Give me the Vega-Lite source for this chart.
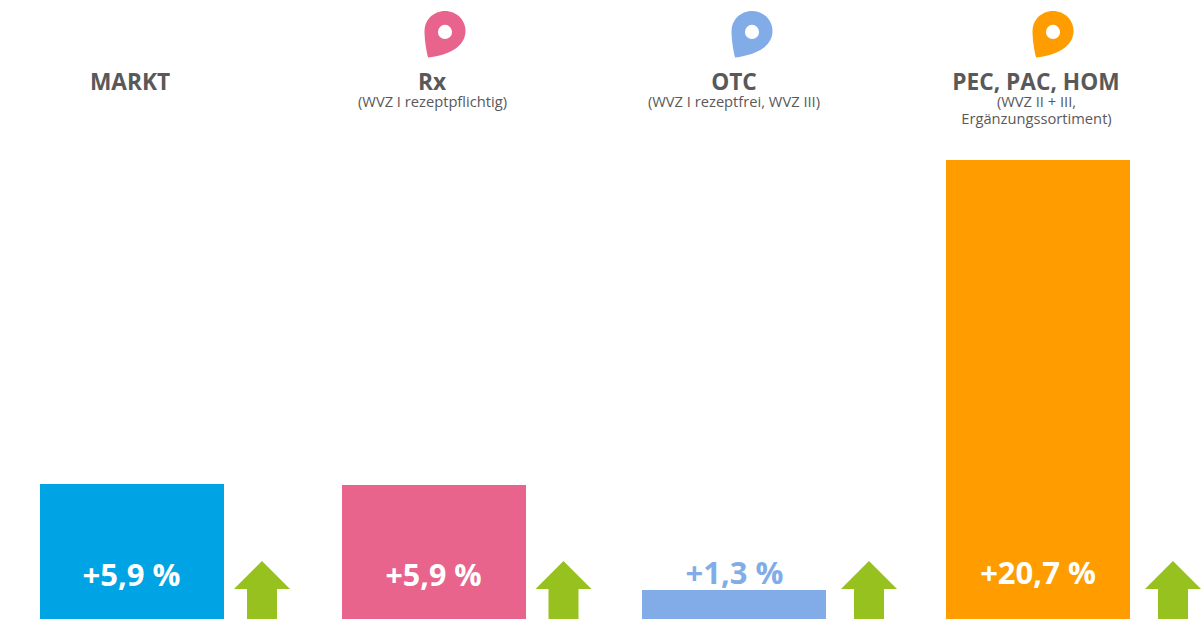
{"$schema":"https://vega.github.io/schema/vega-lite/v6.json","width":1204,"height":619,"autosize":{"type":"fit","contains":"padding"},"padding":0,"background":"white","config":{"view":{"stroke":null},"text":{"font":"Open Sans"}},
"data":{"values":[
{"group":"MARKT","bar":6.09,"change":"+5,9 %","sub":""},
{"group":"Rx","bar":6.04,"change":"+5,9 %","sub":"(WVZ I rezeptpflichtig)"},
{"group":"OTC","bar":1.31,"change":"+1,3 %","sub":"(WVZ I rezeptfrei, WVZ III)"},
{"group":"PEC, PAC, HOM","bar":20.7,"change":"+20,7 %","sub":"(WVZ II + III,\nErgänzungssortiment)"}]},
"encoding":{"x":{"field":"group","type":"nominal","sort":null,"axis":null,"scale":{"type":"point","domain":["MARKT","Rx","OTC","PEC, PAC, HOM"],"range":[132,1038],"padding":0}},
"y":{"field":"bar","type":"quantitative","axis":null,"scale":{"domain":[0,27.92],"nice":false,"zero":true}},
"color":{"field":"group","type":"nominal","legend":null,"scale":{"domain":["MARKT","Rx","OTC","PEC, PAC, HOM"],"range":["#00A4E4","#E8648C","#82ACE8","#FF9C00"]}}},
"layer":[
{"transform":[{"filter":"datum.group==='MARKT'"}],"layer":[
{"mark":{"type":"bar","size":184}},
{"mark":{"type":"text","fontSize":31,"fontWeight":"bold","color":"white","baseline":"middle","dx":-0.5},"encoding":{"text":{"field":"change"},"color":{"value":"white"},"y":{"datum":1.89,"type":"quantitative","axis":null}}},
{"mark":{"type":"text","fontSize":22.7,"fontWeight":"bold","baseline":"middle","dx":-2},"encoding":{"text":{"field":"group"},"color":{"value":"#595959"},"y":{"datum":24.16,"type":"quantitative","axis":null}}},
{"mark":{"type":"point","filled":true,"opacity":1,"shape":"M-0.966,-0.034L0,-1L0.966,-0.034L0.517,-0.034L0.517,1L-0.517,1L-0.517,-0.034Z","size":3364,"xOffset":130},"encoding":{"color":{"value":"#96C11F"},"y":{"datum":1.31,"type":"quantitative","axis":null}}}
]},
{"transform":[{"filter":"datum.group==='Rx'"}],"layer":[
{"mark":{"type":"bar","size":184}},
{"mark":{"type":"text","fontSize":30.4,"fontWeight":"bold","baseline":"middle","dx":-0.5},"encoding":{"text":{"field":"change"},"color":{"value":"white"},"y":{"datum":1.89,"type":"quantitative","axis":null}}},
{"mark":{"type":"text","fontSize":22.7,"fontWeight":"bold","baseline":"middle","dx":-2},"encoding":{"text":{"field":"group"},"color":{"value":"#595959"},"y":{"datum":24.16,"type":"quantitative","axis":null}}},
{"mark":{"type":"text","fontSize":14.7,"baseline":"top","lineBreak":"\n","lineHeight":17,"dx":-1.5},"encoding":{"text":{"field":"sub"},"color":{"value":"#595959"},"y":{"datum":23.62,"type":"quantitative","axis":null}}},
{"mark":{"type":"point","filled":true,"opacity":1,"shape":"M-0.966,-0.034L0,-1L0.966,-0.034L0.517,-0.034L0.517,1L-0.517,1L-0.517,-0.034Z","size":3364,"xOffset":129.5},"encoding":{"color":{"value":"#96C11F"},"y":{"datum":1.31,"type":"quantitative","axis":null}}},
{"mark":{"type":"point","filled":true,"opacity":1,"shape":"M-0.739,1.02C-0.739,1.02-0.891,0.435-0.891,-0.13C-0.891,-0.609-0.5,-1-0.0,-1C0.5,-1,0.891,-0.609,0.891,-0.13C0.891,0.522,0.217,0.913,-0.739,1.02Z","size":2116,"xOffset":11},"encoding":{"y":{"datum":26.39,"type":"quantitative","axis":null}}},
{"mark":{"type":"point","filled":true,"opacity":1,"shape":"circle","size":200,"xOffset":11},"encoding":{"color":{"value":"white"},"y":{"datum":26.48,"type":"quantitative","axis":null}}}
]},
{"transform":[{"filter":"datum.group==='OTC'"}],"layer":[
{"mark":{"type":"bar","size":184,"xOffset":-2}},
{"mark":{"type":"text","fontSize":31,"fontWeight":"bold","baseline":"middle","dx":-1.5},"encoding":{"text":{"field":"change"},"color":{"value":"#82ACE8"},"y":{"datum":1.99,"type":"quantitative","axis":null}}},
{"mark":{"type":"text","fontSize":22.7,"fontWeight":"bold","baseline":"middle","dx":-2},"encoding":{"text":{"field":"group"},"color":{"value":"#595959"},"y":{"datum":24.16,"type":"quantitative","axis":null}}},
{"mark":{"type":"text","fontSize":14.7,"baseline":"top","lineBreak":"\n","lineHeight":17,"dx":-2},"encoding":{"text":{"field":"sub"},"color":{"value":"#595959"},"y":{"datum":23.62,"type":"quantitative","axis":null}}},
{"mark":{"type":"point","filled":true,"opacity":1,"shape":"M-0.966,-0.034L0,-1L0.966,-0.034L0.517,-0.034L0.517,1L-0.517,1L-0.517,-0.034Z","size":3364,"xOffset":133},"encoding":{"color":{"value":"#96C11F"},"y":{"datum":1.31,"type":"quantitative","axis":null}}},
{"mark":{"type":"point","filled":true,"opacity":1,"shape":"M-0.739,1.02C-0.739,1.02-0.891,0.435-0.891,-0.13C-0.891,-0.609-0.5,-1-0.0,-1C0.5,-1,0.891,-0.609,0.891,-0.13C0.891,0.522,0.217,0.913,-0.739,1.02Z","size":2116,"xOffset":16},"encoding":{"y":{"datum":26.39,"type":"quantitative","axis":null}}},
{"mark":{"type":"point","filled":true,"opacity":1,"shape":"circle","size":200,"xOffset":16},"encoding":{"color":{"value":"white"},"y":{"datum":26.48,"type":"quantitative","axis":null}}}
]},
{"transform":[{"filter":"datum.group==='PEC, PAC, HOM'"}],"layer":[
{"mark":{"type":"bar","size":184}},
{"mark":{"type":"text","fontSize":31,"fontWeight":"bold","baseline":"middle"},"encoding":{"text":{"field":"change"},"color":{"value":"white"},"y":{"datum":1.99,"type":"quantitative","axis":null}}},
{"mark":{"type":"text","fontSize":22.7,"fontWeight":"bold","baseline":"middle","dx":-2},"encoding":{"text":{"field":"group"},"color":{"value":"#595959"},"y":{"datum":24.16,"type":"quantitative","axis":null}}},
{"mark":{"type":"text","fontSize":14.7,"baseline":"top","lineBreak":"\n","lineHeight":17,"dx":-1.5},"encoding":{"text":{"field":"sub"},"color":{"value":"#595959"},"y":{"datum":23.62,"type":"quantitative","axis":null}}},
{"mark":{"type":"point","filled":true,"opacity":1,"shape":"M-0.966,-0.034L0,-1L0.966,-0.034L0.517,-0.034L0.517,1L-0.517,1L-0.517,-0.034Z","size":3364,"xOffset":135},"encoding":{"color":{"value":"#96C11F"},"y":{"datum":1.31,"type":"quantitative","axis":null}}},
{"mark":{"type":"point","filled":true,"opacity":1,"shape":"M-0.739,1.02C-0.739,1.02-0.891,0.435-0.891,-0.13C-0.891,-0.609-0.5,-1-0.0,-1C0.5,-1,0.891,-0.609,0.891,-0.13C0.891,0.522,0.217,0.913,-0.739,1.02Z","size":2116,"xOffset":15},"encoding":{"y":{"datum":26.39,"type":"quantitative","axis":null}}},
{"mark":{"type":"point","filled":true,"opacity":1,"shape":"circle","size":200,"xOffset":15},"encoding":{"color":{"value":"white"},"y":{"datum":26.48,"type":"quantitative","axis":null}}}
]}
]}
